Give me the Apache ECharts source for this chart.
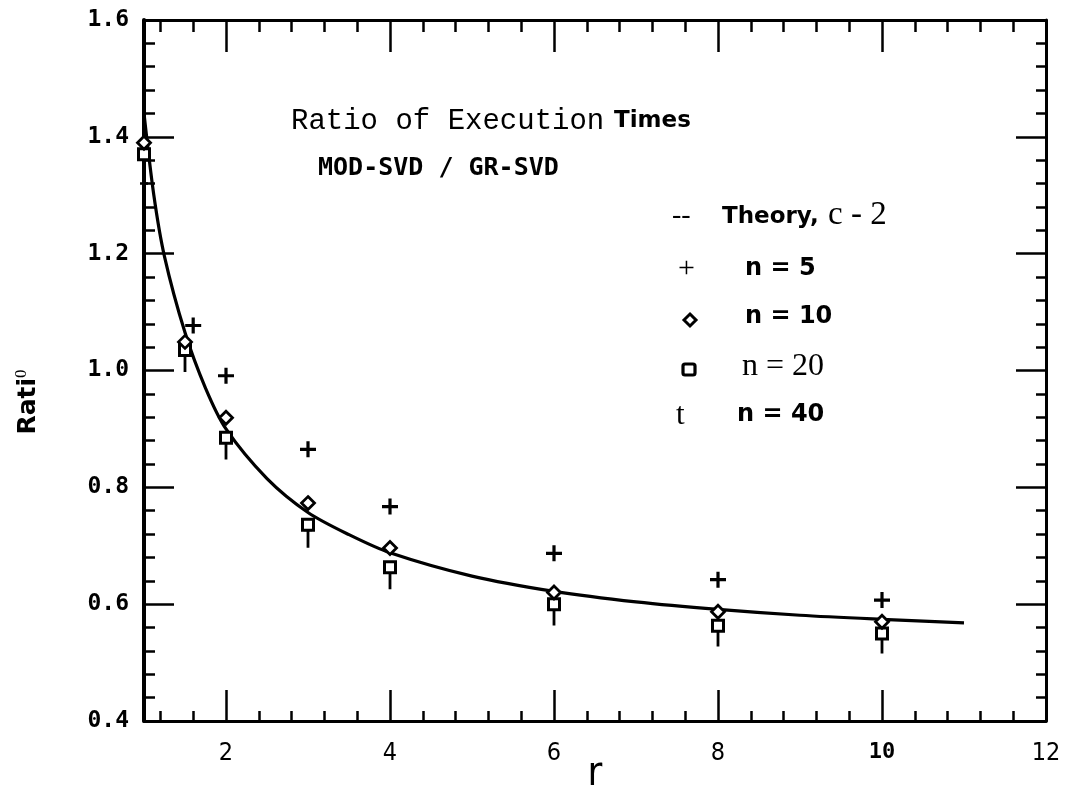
<!DOCTYPE html>
<html>
<head>
<meta charset="utf-8">
<script src="https://cdn.jsdelivr.net/npm/echarts@6/dist/echarts.min.js"></script>
<style>
html,body{margin:0;padding:0;background:#fff;}
#chart{width:1068px;height:794px;}
</style>
</head>
<body>
<div id="chart"></div>
<script>
// ---- data ----
const xValues   = [1, 1.5, 2, 3, 4, 6, 8, 10];
const n5X       = [1.6, 2, 3, 4, 6, 8, 10];
const n5Values  = [1.077, 0.991, 0.865, 0.767, 0.687, 0.642, 0.607];
const n10Values = [1.39, 1.049, 0.919, 0.773, 0.696, 0.620, 0.587, 0.570];
const n20Values = [1.37, 1.035, 0.885, 0.736, 0.663, 0.600, 0.563, 0.550];
const n40Values = [1.31, 1.018, 0.868, 0.717, 0.646, 0.584, 0.548, 0.536];
const theoryX   = [1.0, 1.12, 1.25, 1.5, 1.75, 2, 2.5, 3, 3.5, 4, 5, 6, 7, 8, 9, 10, 11];
const theoryY   = [1.44, 1.30, 1.195, 1.065, 0.97, 0.90, 0.815, 0.757, 0.719, 0.688, 0.648, 0.622, 0.604, 0.591, 0.581, 0.574, 0.568];
const xTickLabels = [2, 4, 6, 8, 10, 12];
const xMajorTicks = [2, 4, 6, 8, 10];
const xMinorTicks = [1.2,1.6,2.4,2.8,3.2,3.6,4.4,4.8,5.2,5.6,6.4,6.8,7.2,7.6,8.4,8.8,9.2,9.6,10.4,10.8,11.2,11.6];
const yTickLabels = ['0.4','0.6','0.8','1.0','1.2','1.4','1.6'];

const zip = (xs, ys) => xs.map((x, i) => [x, ys[i]]);

const PLUS = 'path://M4,0h2v4h4v2h-4v4h-2v-4h-4v-2h4z';
const DAGGER = 'path://M2.6,0h2.8v4h2.6v2.2h-2.6v13.8h-2.8v-13.8h-2.6v-2.2h2.6z';

const chart = echarts.init(document.getElementById('chart'));
const black = '#000';
const lineW = 3;

function xAxisBase(pos) {
  return {
    type: 'value', min: 1, max: 12, position: pos, gridIndex: 0,
    axisLine: { show: false, onZero: false },
    axisTick: { show: false }, axisLabel: { show: false }, splitLine: { show: false }
  };
}

const option = {
  backgroundColor: '#fff',
  animation: false,
  grid: { left: 144, right: 22, top: 20, bottom: 73, containLabel: false, outerBoundsMode: 'none' },
  xAxis: [
    Object.assign(xAxisBase('bottom'), {
      axisLine: { show: true, onZero: false, lineStyle: { color: black, width: lineW } },
      axisTick: { show: true, inside: true, length: 10, customValues: xMinorTicks, lineStyle: { color: black, width: 2.5 } }
    }),
    Object.assign(xAxisBase('bottom'), {
      axisTick: { show: true, inside: true, length: 31, customValues: xMajorTicks, lineStyle: { color: black, width: 2.5 } },
      axisLabel: {
        show: true, customValues: xTickLabels, margin: 20,
        fontFamily: '"Liberation Sans Narrow","DejaVu Sans Condensed",sans-serif',
        fontSize: 25, color: black, fontWeight: 'lighter',
        formatter: v => v === 10 ? '{b|10}' : String(v),
        rich: { b: { fontFamily: '"DejaVu Sans Mono",monospace', fontWeight: 'bold', fontSize: 22, color: black } }
      },
      name: 'r', nameLocation: 'middle', nameGap: 34, nameMoveOverlap: false,
      nameTextStyle: { fontFamily: '"Liberation Sans Narrow","DejaVu Sans Condensed",sans-serif', fontSize: 40, color: black, fontWeight: 'normal' }
    }),
    Object.assign(xAxisBase('top'), {
      axisLine: { show: true, onZero: false, lineStyle: { color: black, width: lineW } },
      axisTick: { show: true, inside: true, length: 12, customValues: xMinorTicks, lineStyle: { color: black, width: 2.5 } }
    }),
    Object.assign(xAxisBase('top'), {
      axisTick: { show: true, inside: true, length: 32, customValues: xMajorTicks, lineStyle: { color: black, width: 2.5 } }
    })
  ],
  yAxis: [
    {
      type: 'value', min: 0.4, max: 1.6, interval: 0.2, position: 'left',
      axisLine: { show: true, onZero: false, lineStyle: { color: black, width: 4 } },
      axisTick: { show: true, inside: true, length: 30, lineStyle: { color: black, width: 2.5 } },
      minorTick: { show: true, splitNumber: 5, length: 11, lineStyle: { color: black, width: 2.5 } },
      splitLine: { show: false },
      axisLabel: {
        show: true, margin: 15, color: black,
        fontFamily: '"DejaVu Sans Mono",monospace', fontWeight: 'bold', fontSize: 23,
        formatter: v => yTickLabels[Math.round((v - 0.4) / 0.2)]
      }
    },
    {
      type: 'value', min: 0.4, max: 1.6, interval: 0.2, position: 'right',
      axisLine: { show: true, onZero: false, lineStyle: { color: black, width: lineW } },
      axisTick: { show: true, inside: true, length: 30, lineStyle: { color: black, width: 2.5 } },
      minorTick: { show: true, splitNumber: 5, length: 10, lineStyle: { color: black, width: 2.5 } },
      splitLine: { show: false }, axisLabel: { show: false }
    }
  ],
  series: [
    {
      name: 'Theory, c-2', type: 'line', xAxisIndex: 0, yAxisIndex: 0,
      data: zip(theoryX, theoryY), smooth: 0.3, showSymbol: false, symbol: 'none',
      lineStyle: { color: black, width: 3.2 }, z: 3
    },
    {
      name: 'n = 40', type: 'scatter', data: zip(xValues, n40Values),
      symbol: DAGGER, symbolSize: [8, 24], itemStyle: { color: black, opacity: 1 }, z: 4
    },
    {
      name: 'n = 20', type: 'scatter', data: zip(xValues, n20Values),
      symbol: 'rect', symbolSize: 11, itemStyle: { color: '#fff', borderColor: black, borderWidth: 3, opacity: 1 }, z: 5
    },
    {
      name: 'n = 10', type: 'scatter', data: zip(xValues, n10Values),
      symbol: 'diamond', symbolSize: 13, itemStyle: { color: '#fff', borderColor: black, borderWidth: 2.8, opacity: 1 }, z: 6
    },
    {
      name: 'n = 5', type: 'scatter', data: zip(n5X, n5Values),
      symbol: PLUS, symbolSize: 16, itemStyle: { color: black, opacity: 1 }, z: 7
    }
  ],
  graphic: [
    { type: 'text', x: 28, y: 402, rotation: Math.PI / 2, style: {
        text: '{a|Rati}{s|0}', align: 'center', verticalAlign: 'middle',
        rich: {
          a: { fontFamily: '"DejaVu Sans",sans-serif', fontWeight: 'bold', fontSize: 25, fill: black },
          s: { fontFamily: '"Liberation Serif",serif', fontSize: 17, fill: black, verticalAlign: 'top', padding: [0, 0, 12, 0] }
        } } },

    { type: 'text', left: 291, top: 107, style: { text: 'Ratio of Execution', font: '29px "Liberation Mono", monospace', fill: black } },
    { type: 'text', left: 614, top: 110, style: { text: 'Times', font: 'bold 23px "DejaVu Sans", sans-serif', fill: black } },
    { type: 'text', left: 318, top: 156, style: { text: 'MOD-SVD / GR-SVD', font: 'bold 25px "DejaVu Sans Mono", monospace', fill: black } },

    { type: 'text', left: 672, top: 202, style: { text: '--', font: '28px "Liberation Serif", serif', fill: black } },
    { type: 'text', left: 722, top: 206, style: { text: 'Theory,', font: 'bold 23px "DejaVu Sans", sans-serif', fill: black } },
    { type: 'text', left: 828, top: 199, style: { text: 'c - 2', font: '33px "Liberation Serif", serif', fill: black } },

    { type: 'text', left: 678, top: 254, style: { text: '+', font: '30px "Liberation Serif", serif', fill: black } },
    { type: 'text', left: 745, top: 257, style: { text: 'n = 5', font: 'bold 24px "DejaVu Sans", sans-serif', fill: black } },

    { type: 'polygon', shape: { points: [[690, 314], [696, 320], [690, 326], [684, 320]] }, style: { fill: '#fff', stroke: black, lineWidth: 3 } },
    { type: 'text', left: 745, top: 305, style: { text: 'n = 10', font: 'bold 24px "DejaVu Sans", sans-serif', fill: black } },

    { type: 'rect', shape: { x: 683, y: 364, width: 12, height: 11, r: 2 }, style: { fill: '#fff', stroke: black, lineWidth: 3.2 } },
    { type: 'text', left: 742, top: 351, style: { text: 'n = 20', font: '32px "Liberation Serif", serif', fill: black } },

    { type: 'text', left: 676, top: 400, style: { text: 't', font: '31px "Liberation Serif", serif', fill: black } },
    { type: 'text', left: 737, top: 403, style: { text: 'n = 40', font: 'bold 24px "DejaVu Sans", sans-serif', fill: black } }
  ]
};
chart.setOption(option);
</script>
</body>
</html>
